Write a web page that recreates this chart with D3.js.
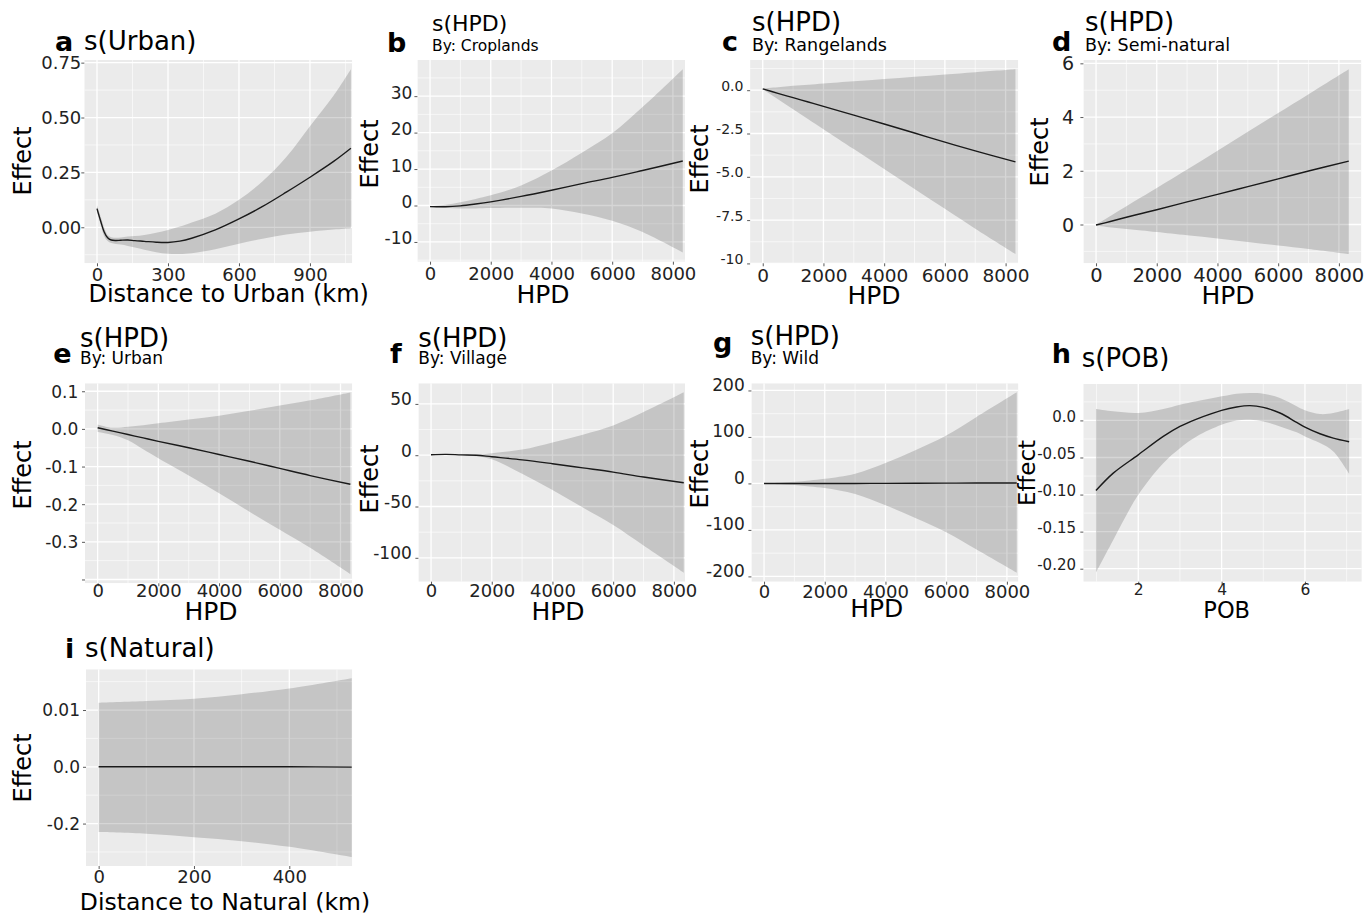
<!DOCTYPE html>
<html>
<head>
<meta charset="utf-8">
<script src="https://cdn.jsdelivr.net/npm/d3@7"></script>
<style>
  body { margin: 0; background: #ffffff; }
  svg { display: block; }
  text { font-family: "DejaVu Sans", "Liberation Sans", sans-serif; }
</style>
</head>
<body>
<svg id="chart" width="1364" height="917"></svg>
<script>
// ---------- smooth terms: estimate with confidence band ----------

// s(Urban): distance to urban (km)
const urbanDistKm = [0, 15, 30, 45, 60, 80, 100, 130, 160, 200, 250, 300, 350, 400, 500, 600, 700, 800, 900, 1000, 1073];
const urbanEffect = [0.085, 0.03, -0.02, -0.048, -0.058, -0.060, -0.059, -0.058, -0.061, -0.064, -0.068, -0.069, -0.063, -0.050, -0.012, 0.038, 0.095, 0.160, 0.228, 0.300, 0.360];
const urbanUpper  = [0.100, 0.05, 0.0, -0.035, -0.045, -0.048, -0.046, -0.042, -0.040, -0.035, -0.025, -0.012, 0.003, 0.022, 0.062, 0.125, 0.210, 0.320, 0.460, 0.600, 0.720];
const urbanLower  = [0.070, 0.015, -0.040, -0.063, -0.072, -0.076, -0.079, -0.085, -0.092, -0.102, -0.114, -0.121, -0.122, -0.118, -0.100, -0.075, -0.052, -0.033, -0.020, -0.010, -0.004];

// s(HPD) by land-use class, human population density
const hpdValues = [0, 500, 1000, 1500, 2000, 3000, 4000, 5000, 6000, 7000, 8325];

const croplandsEffect = [-0.3, -0.35, -0.1, 0.4, 1.0, 2.5, 4.2, 6.0, 7.7, 9.6, 12.2];
const croplandsUpper  = [-0.2, 0.2, 0.9, 1.8, 2.8, 5.5, 9.6, 14.5, 19.8, 27.0, 37.4];
const croplandsLower  = [-0.4, -0.6, -0.8, -0.8, -0.7, -0.6, -0.8, -2.2, -4.2, -7.3, -12.9];

const rangelandsEffect = [0.08, -0.18, -0.43, -0.68, -0.93, -1.44, -1.95, -2.47, -3.0, -3.5, -4.14];
const rangelandsUpper  = [0.1, 0.17, 0.25, 0.32, 0.39, 0.52, 0.65, 0.78, 0.91, 1.04, 1.21];
const rangelandsLower  = [0.05, -0.52, -1.1, -1.67, -2.25, -3.4, -4.55, -5.7, -6.85, -8.0, -9.46];

const seminaturalEffect = [-0.02, 0.12, 0.27, 0.41, 0.55, 0.84, 1.12, 1.41, 1.70, 1.99, 2.36];
const seminaturalUpper  = [0.0, 0.34, 0.68, 1.02, 1.36, 2.05, 2.75, 3.45, 4.15, 4.85, 5.78];
const seminaturalLower  = [-0.05, -0.11, -0.17, -0.22, -0.28, -0.40, -0.52, -0.65, -0.78, -0.91, -1.10];

const urbanHpdEffect = [0.003, -0.006, -0.015, -0.024, -0.033, -0.050, -0.068, -0.086, -0.105, -0.124, -0.147];
const urbanHpdUpper  = [0.012, 0.003, 0.006, 0.010, 0.015, 0.025, 0.035, 0.048, 0.062, 0.076, 0.097];
const urbanHpdLower  = [-0.008, -0.016, -0.030, -0.054, -0.078, -0.124, -0.171, -0.220, -0.268, -0.316, -0.386];

const villageEffect = [0.5, 0.8, 0.3, 0.0, -1.5, -4.5, -8.3, -12.4, -16.5, -21.3, -26.9];
const villageUpper  = [1.0, 1.0, 0.8, 0.6, 2.0, 5.5, 12.5, 20.0, 29.0, 42.0, 61.3];
const villageLower  = [0.0, 0.4, -0.2, -1.0, -4.0, -18.0, -34.0, -51.0, -68.0, -88.0, -114.5];

const wildEffect = [0, 0, 0, 0, 0, 0, 0.2, 0.4, 0.6, 0.8, 1.0];
const wildUpper  = [0.5, 1.5, 3.5, 6.5, 10, 21, 44, 72, 103, 143, 196];
const wildLower  = [-0.5, -1.5, -3.5, -6.5, -10, -23, -47, -75, -105, -142, -192];

// s(POB)
const pobValues = [0.985, 1.4, 2.0, 2.6, 3.0, 3.4, 4.0, 4.36, 4.68, 5.0, 5.4, 5.8, 6.0, 6.36, 6.68, 7.06];
const pobEffect = [-0.0946, -0.0711, -0.0464, -0.0216, -0.0081, 0.0018, 0.0136, 0.0181, 0.0199, 0.0176, 0.0100, -0.0027, -0.0090, -0.0180, -0.0238, -0.0288];
const pobUpper  = [0.0154, 0.0122, 0.0100, 0.0154, 0.0212, 0.0257, 0.0325, 0.0361, 0.0370, 0.0361, 0.0302, 0.0190, 0.0136, 0.0086, 0.0100, 0.0154];
const pobLower  = [-0.2054, -0.1612, -0.1004, -0.0576, -0.0374, -0.0216, -0.0058, 0.0000, 0.0009, -0.0013, -0.0081, -0.0160, -0.0216, -0.0306, -0.0419, -0.0720];

// s(Natural): distance to natural (km)
const naturalDistKm = [0, 100, 200, 300, 400, 531];
const naturalEffect = [0.0, 0.0, 0.0, 0.0, 0.0, -0.00005];
const naturalUpper  = [0.0113, 0.0116, 0.0120, 0.0128, 0.0138, 0.0156];
const naturalLower  = [-0.0115, -0.0118, -0.0124, -0.0131, -0.0141, -0.0159];

// ---------- axis breaks and labels ----------
const hpdTicks = [0, 2000, 4000, 6000, 8000];
const hpdTickLabels = ["0", "2000", "4000", "6000", "8000"];
const urbanXTicks = [0, 300, 600, 900];
const urbanXLabels = ["0", "300", "600", "900"];
const urbanYTicks = [0, 0.25, 0.5, 0.75];
const urbanYLabels = ["0.00", "0.25", "0.50", "0.75"];
const croplandsYTicks = [-10, 0, 10, 20, 30];
const croplandsYLabels = ["-10", "0", "10", "20", "30"];
const rangelandsYTicks = [-10, -7.5, -5, -2.5, 0];
const rangelandsYLabels = ["-10", "-7.5", "-5.0", "-2.5", "0.0"];
const seminaturalYTicks = [0, 2, 4, 6];
const seminaturalYLabels = ["0", "2", "4", "6"];
const urbanHpdYTicks = [-0.4, -0.3, -0.2, -0.1, 0, 0.1];
const urbanHpdYLabels = ["", "-0.3", "-0.2", "-0.1", "0.0", "0.1"];
const villageYTicks = [-100, -50, 0, 50];
const villageYLabels = ["-100", "-50", "0", "50"];
const wildYTicks = [-200, -100, 0, 100, 200];
const wildYLabels = ["-200", "-100", "0", "100", "200"];
const pobXTicks = [2, 4, 6];
const pobXLabels = ["2", "4", "6"];
const pobYTicks = [-0.2, -0.15, -0.1, -0.05, 0];
const pobYLabels = ["-0.20", "-0.15", "-0.10", "-0.05", "0.0"];
const naturalXTicks = [0, 200, 400];
const naturalXLabels = ["0", "200", "400"];
const naturalYTicks = [-0.01, 0, 0.01];
const naturalYLabels = ["-0.2", "0.0", "0.01"];

// ---------- panel definitions (content + placement) ----------
const panels = [
  { tag: "a", title: "s(Urban)", sub: null, xTitle: "Distance to Urban (km)",
    x: urbanDistKm, fit: urbanEffect, upper: urbanUpper, lower: urbanLower,
    xTicks: urbanXTicks, xLabels: urbanXLabels, yTicks: urbanYTicks, yLabels: urbanYLabels,
    L: { left: 84.3, top: 60, W: 279.3, visW: 268, H: 203.3,
         tagX: 55, tagY: 50.5, titleX: 84, titleY: 50, titleFs: 26, subY: 0, subFs: 17.5,
         yFs: 18, xFs: 18, yGap: 3, yDy: 0, xBase: 18,
         xtX: 228.7, xtY: 301.7, xtFs: 24, ytX: 22.7, ytY: 161, ytFs: 24 } },
  { tag: "b", title: "s(HPD)", sub: "By: Croplands", xTitle: "HPD",
    x: hpdValues, fit: croplandsEffect, upper: croplandsUpper, lower: croplandsLower,
    xTicks: hpdTicks, xLabels: hpdTickLabels, yTicks: croplandsYTicks, yLabels: croplandsYLabels,
    L: { left: 417.4, top: 60, W: 278, visW: 267.6, H: 201.7,
         tagX: 387, tagY: 51.7, titleX: 432, titleY: 31, titleFs: 22, subY: 51, subFs: 15.5,
         yFs: 17, xFs: 18, yGap: 5, yDy: -4, xBase: 18.3,
         xtX: 543, xtY: 302.5, xtFs: 25, ytX: 370, ytY: 154, ytFs: 24 } },
  { tag: "c", title: "s(HPD)", sub: "By: Rangelands", xTitle: "HPD",
    x: hpdValues, fit: rangelandsEffect, upper: rangelandsUpper, lower: rangelandsLower,
    xTicks: hpdTicks, xLabels: hpdTickLabels, yTicks: rangelandsYTicks, yLabels: rangelandsYLabels,
    L: { left: 750.1, top: 60, W: 278, visW: 268.2, H: 203.3,
         tagX: 722, tagY: 51, titleX: 752, titleY: 31, titleFs: 26, subY: 51, subFs: 17.5,
         yFs: 14, xFs: 18.5, yGap: 6.7, yDy: -5, xBase: 18.4,
         xtX: 874, xtY: 304, xtFs: 25, ytX: 700, ytY: 159, ytFs: 24 } },
  { tag: "d", title: "s(HPD)", sub: "By: Semi-natural", xTitle: "HPD",
    x: hpdValues, fit: seminaturalEffect, upper: seminaturalUpper, lower: seminaturalLower,
    xTicks: hpdTicks, xLabels: hpdTickLabels, yTicks: seminaturalYTicks, yLabels: seminaturalYLabels,
    L: { left: 1083.4, top: 60, W: 278, visW: 278, H: 203.3,
         tagX: 1052, tagY: 51, titleX: 1085, titleY: 31, titleFs: 26, subY: 51, subFs: 17.5,
         yFs: 19, xFs: 19.5, yGap: 9.4, yDy: 0, xBase: 18.4,
         xtX: 1228, xtY: 304, xtFs: 25, ytX: 1040, ytY: 152, ytFs: 24 } },
  { tag: "e", title: "s(HPD)", sub: "By: Urban", xTitle: "HPD",
    x: hpdValues, fit: urbanHpdEffect, upper: urbanHpdUpper, lower: urbanHpdLower,
    xTicks: hpdTicks, xLabels: hpdTickLabels, yTicks: urbanHpdYTicks, yLabels: urbanHpdYLabels,
    L: { left: 85, top: 383.3, W: 278, visW: 267.3, H: 200,
         tagX: 53.3, tagY: 363, titleX: 80, titleY: 346.7, titleFs: 26, subY: 364, subFs: 17,
         yFs: 17, xFs: 18, yGap: 6.7, yDy: 0, xBase: 13.4,
         xtX: 211, xtY: 620, xtFs: 25, ytX: 23, ytY: 475, ytFs: 24 } },
  { tag: "f", title: "s(HPD)", sub: "By: Village", xTitle: "HPD",
    x: hpdValues, fit: villageEffect, upper: villageUpper, lower: villageLower,
    xTicks: hpdTicks, xLabels: hpdTickLabels, yTicks: villageYTicks, yLabels: villageYLabels,
    L: { left: 418.4, top: 383.3, W: 278, visW: 266.6, H: 198.4,
         tagX: 390, tagY: 363, titleX: 418.3, titleY: 346.7, titleFs: 26, subY: 364, subFs: 17,
         yFs: 17, xFs: 18, yGap: 6.6, yDy: -5, xBase: 15,
         xtX: 558, xtY: 620, xtFs: 25, ytX: 370, ytY: 479, ytFs: 24 } },
  { tag: "g", title: "s(HPD)", sub: "By: Wild", xTitle: "HPD",
    x: hpdValues, fit: wildEffect, upper: wildUpper, lower: wildLower,
    xTicks: hpdTicks, xLabels: hpdTickLabels, yTicks: wildYTicks, yLabels: wildYLabels,
    L: { left: 751.4, top: 383.3, W: 278, visW: 267, H: 198.4,
         tagX: 713, tagY: 352, titleX: 750.7, titleY: 345, titleFs: 26, subY: 364, subFs: 17,
         yFs: 17, xFs: 18, yGap: 6.7, yDy: -6, xBase: 16.6,
         xtX: 876.7, xtY: 617, xtFs: 25, ytX: 700, ytY: 474, ytFs: 24 } },
  { tag: "h", title: "s(POB)", sub: null, xTitle: "POB",
    x: pobValues, fit: pobEffect, upper: pobUpper, lower: pobLower,
    xTicks: pobXTicks, xLabels: pobXLabels, yTicks: pobYTicks, yLabels: pobYLabels,
    L: { left: 1083.3, top: 384, W: 278.5, visW: 278.5, H: 197.7,
         tagX: 1051.7, tagY: 363.3, titleX: 1081.7, titleY: 366.7, titleFs: 26, subY: 0, subFs: 17,
         yFs: 15, xFs: 15.5, yGap: 7.3, yDy: -4, xBase: 13.3,
         xtX: 1226.7, xtY: 618.3, xtFs: 22.5, ytX: 1026.7, ytY: 473, ytFs: 23 } },
  { tag: "i", title: "s(Natural)", sub: null, xTitle: "Distance to Natural (km)",
    x: naturalDistKm, fit: naturalEffect, upper: naturalUpper, lower: naturalLower,
    xTicks: naturalXTicks, xLabels: naturalXLabels, yTicks: naturalYTicks, yLabels: naturalYLabels,
    L: { left: 86, top: 669.3, W: 278.4, visW: 266.3, H: 196.7,
         tagX: 65, tagY: 658.3, titleX: 85, titleY: 656.7, titleFs: 26, subY: 0, subFs: 17,
         yFs: 17, xFs: 18, yGap: 6, yDy: 0, xBase: 17.3,
         xtX: 225, xtY: 910, xtFs: 23.5, ytX: 22.7, ytY: 768, ytFs: 24 } }
];

const svg = d3.select("#chart");
const defs = svg.append("defs");

// minor breaks sit half-way between the major ones, kept inside the limits
function minorBreaks(ticks, domain) {
  const t = ticks.slice().sort((a, b) => a - b);
  const step = t[1] - t[0];
  const out = [];
  for (let v = t[0] - step / 2; v <= t[t.length - 1] + step / 2 + 1e-12; v += step) {
    if (v >= domain[0] && v <= domain[1]) out.push(v);
  }
  return out;
}

function drawPanel(p, idx) {
  const L = p.L;
  const xExt = d3.extent(p.x);
  const xPad = (xExt[1] - xExt[0]) * 0.05;
  const x = d3.scaleLinear().domain([xExt[0] - xPad, xExt[1] + xPad]).range([L.left, L.left + L.W]);

  const yLo = Math.min(d3.min(p.lower), d3.min(p.fit));
  const yHi = Math.max(d3.max(p.upper), d3.max(p.fit));
  const yPad = (yHi - yLo) * 0.05;
  const y = d3.scaleLinear().domain([yLo - yPad, yHi + yPad]).range([L.top + L.H, L.top]);

  const g = svg.append("g").attr("class", "panel panel-" + p.tag);
  const clipId = "clip-" + idx;
  defs.append("clipPath").attr("id", clipId)
    .append("rect").attr("x", L.left).attr("y", L.top).attr("width", L.visW).attr("height", L.H);

  const plot = g.append("g").attr("clip-path", "url(#" + clipId + ")");
  plot.append("rect").attr("x", L.left).attr("y", L.top).attr("width", L.visW).attr("height", L.H)
    .attr("fill", "#EBEBEB");

  const xMinor = minorBreaks(p.xTicks, x.domain());
  const yMinor = minorBreaks(p.yTicks, y.domain());

  plot.selectAll(".vminor").data(xMinor).join("line")
    .attr("x1", d => x(d)).attr("x2", d => x(d)).attr("y1", L.top).attr("y2", L.top + L.H)
    .attr("stroke", "#ffffff").attr("stroke-width", 0.6);
  plot.selectAll(".hminor").data(yMinor).join("line")
    .attr("x1", L.left).attr("x2", L.left + L.visW).attr("y1", d => y(d)).attr("y2", d => y(d))
    .attr("stroke", "#ffffff").attr("stroke-width", 0.6);
  plot.selectAll(".vmajor").data(p.xTicks).join("line")
    .attr("x1", d => x(d)).attr("x2", d => x(d)).attr("y1", L.top).attr("y2", L.top + L.H)
    .attr("stroke", "#ffffff").attr("stroke-width", 1.3);
  plot.selectAll(".hmajor").data(p.yTicks).join("line")
    .attr("x1", L.left).attr("x2", L.left + L.visW).attr("y1", d => y(d)).attr("y2", d => y(d))
    .attr("stroke", "#ffffff").attr("stroke-width", 1.3);

  const rows = p.x.map((v, i) => ({ x: v, fit: p.fit[i], hi: p.upper[i], lo: p.lower[i] }));

  const curve = d3.curveCatmullRom.alpha(0.5);
  const band = d3.area().curve(curve)
    .x(d => x(d.x)).y0(d => y(d.lo)).y1(d => y(d.hi));
  plot.append("path").datum(rows).attr("d", band)
    .attr("fill", "#000000").attr("fill-opacity", 0.16);

  const line = d3.line().curve(curve).x(d => x(d.x)).y(d => y(d.fit));
  plot.append("path").datum(rows).attr("d", line)
    .attr("fill", "none").attr("stroke", "#1a1a1a").attr("stroke-width", 1.4);

  // axes
  const yAxis = d3.axisLeft(y).tickValues(p.yTicks).tickSize(3).tickSizeOuter(0)
    .tickFormat(d => p.yLabels[p.yTicks.indexOf(d)]);
  const ya = g.append("g").attr("transform", `translate(${L.left},0)`).call(yAxis);
  ya.select(".domain").remove();
  ya.selectAll(".tick line").attr("stroke", "#5a5a5a");
  ya.selectAll(".tick text")
    .attr("x", -L.yGap).attr("dy", (0.35 * L.yFs + L.yDy) + "px")
    .attr("font-size", L.yFs).attr("fill", "#222222")
    .attr("font-family", "\"DejaVu Sans\", sans-serif");

  const xAxis = d3.axisBottom(x).tickValues(p.xTicks).tickSize(3).tickSizeOuter(0)
    .tickFormat(d => p.xLabels[p.xTicks.indexOf(d)]);
  const xa = g.append("g").attr("transform", `translate(0,${L.top + L.H})`).call(xAxis);
  xa.select(".domain").remove();
  xa.selectAll(".tick line").attr("stroke", "#5a5a5a");
  xa.selectAll(".tick text")
    .attr("y", L.xBase).attr("dy", 0)
    .attr("font-size", L.xFs).attr("fill", "#222222")
    .attr("font-family", "\"DejaVu Sans\", sans-serif");

  // axis titles
  g.append("text").attr("x", L.xtX).attr("y", L.xtY).attr("text-anchor", "middle")
    .attr("font-size", L.xtFs).attr("fill", "#000").text(p.xTitle);
  g.append("text").attr("transform", `translate(${L.ytX},${L.ytY}) rotate(-90)`)
    .attr("text-anchor", "middle").attr("dominant-baseline", "central")
    .attr("font-size", L.ytFs).attr("fill", "#000").text("Effect");

  // tag, title, subtitle
  g.append("text").attr("x", L.tagX).attr("y", L.tagY).attr("font-size", 27)
    .attr("font-weight", "bold").attr("fill", "#000").text(p.tag);
  g.append("text").attr("x", L.titleX).attr("y", L.titleY).attr("font-size", L.titleFs)
    .attr("fill", "#000").text(p.title);
  if (p.sub) {
    g.append("text").attr("x", L.titleX).attr("y", L.subY).attr("font-size", L.subFs)
      .attr("fill", "#000").text(p.sub);
  }
}

panels.forEach(drawPanel);
</script>
</body>
</html>
